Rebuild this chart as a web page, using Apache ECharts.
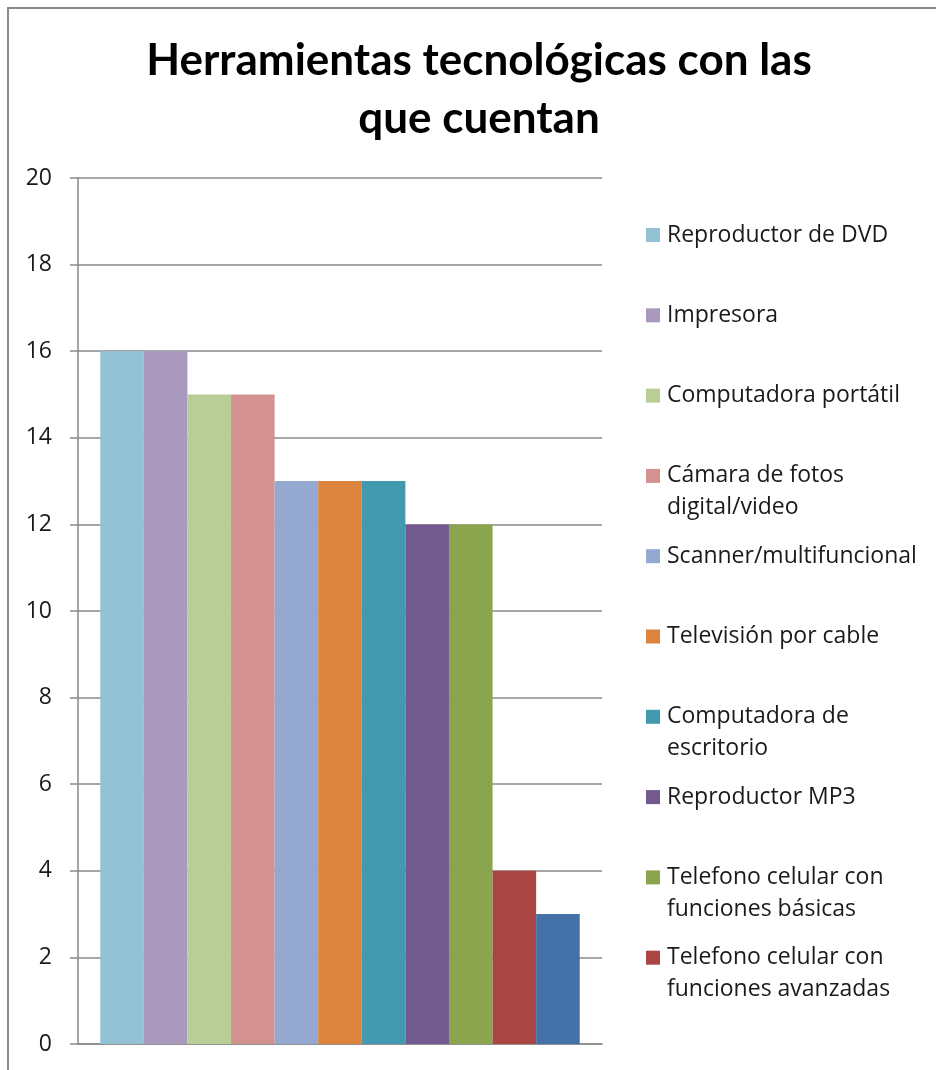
<!DOCTYPE html>
<html>
<head>
<meta charset="utf-8">
<script src="https://cdn.jsdelivr.net/npm/echarts@6/dist/echarts.min.js"></script>
<style>
html,body{margin:0;padding:0;background:#fff;}
#chart{width:936px;height:1070px;}
</style>
</head>
<body>
<div id="chart"></div>
<script>
// ---- data ----
var titleText = 'Herramientas tecnológicas con las\nque cuentan';
var categories = [''];
var seriesNames = [
  'Reproductor de DVD',
  'Impresora',
  'Computadora portátil',
  'Cámara de fotos\ndigital/video',
  'Scanner/multifuncional',
  'Televisión por cable',
  'Computadora de\nescritorio',
  'Reproductor MP3',
  'Telefono celular con\nfunciones básicas',
  'Telefono celular con\nfunciones avanzadas',
  'Otros'
];
var seriesValues = [16, 16, 15, 15, 13, 13, 13, 12, 12, 4, 3];
var seriesColors = ['#92C2D4', '#A99ABD', '#B9CD96', '#D39190', '#94A8D0', '#DC833E', '#4399AF', '#72598E', '#8AA54D', '#A94543', '#4472A8'];
var legendCount = 10; // last series not visible in legend (cut off in original)
var yTicks = [0, 2, 4, 6, 8, 10, 12, 14, 16, 18, 20];

// ---- build ----
var chart = echarts.init(document.getElementById('chart'), null, {renderer: 'canvas'});
var FONT = "'Open Sans', 'DejaVu Sans', sans-serif";

var series = seriesNames.map(function (n, i) {
  return {
    name: n,
    type: 'bar',
    data: [seriesValues[i]],
    barGap: '0%',
    barCategoryGap: '8.5%',
    itemStyle: {color: seriesColors[i]},
    emphasis: {disabled: true}
  };
});

var legends = [];
var firstCenter = 235, step = 80.3, lh = 32;
for (var i = 0; i < legendCount; i++) {
  var lines = seriesNames[i].split('\n').length;
  var c = firstCenter + step * i;
  var shown = lines > 1 ? 2 * lines - 1 : 1; // blank lines above so the first line sits beside the marker
  var h = shown * lh;
  legends.push({
    data: [seriesNames[i]],
    left: 646,
    top: c - h / 2,
    padding: 0,
    orient: 'vertical',
    itemWidth: 14,
    itemHeight: 14,
    itemGap: 0,
    selectedMode: false,
    icon: 'rect',
    formatter: (function (n) {
      return function (name) { return n > 1 ? new Array(n).join('\n') + name : name; };
    })(lines),
    textStyle: {
      fontFamily: FONT,
      fontSize: 23,
      color: '#1a1a1a',
      lineHeight: lh,
      padding: [0, 0, 0, 2]
    }
  });
}

var option = {
  backgroundColor: '#ffffff',
  animation: false,
  title: {
    text: titleText,
    left: 479,
    textAlign: 'center',
    top: 32,
    padding: 0,
    textStyle: {
      fontFamily: "Lato, 'Open Sans', sans-serif",
      fontWeight: 'bold',
      fontSize: 44,
      lineHeight: 58,
      color: '#000000'
    }
  },
  legend: legends,
  grid: {left: 78, right: 334, top: 178, bottom: 26, containLabel: false},
  xAxis: {
    type: 'category',
    data: categories,
    axisLine: {lineStyle: {color: '#8a8a8a', width: 1.5}},
    axisTick: {show: false},
    axisLabel: {show: false}
  },
  yAxis: {
    type: 'value',
    min: yTicks[0],
    max: yTicks[yTicks.length - 1],
    interval: 2,
    axisLine: {show: true, lineStyle: {color: '#8a8a8a', width: 1.5}},
    axisTick: {show: true, length: 8, lineStyle: {color: '#8a8a8a', width: 1.5}},
    axisLabel: {fontFamily: FONT, fontSize: 23, color: '#1a1a1a', margin: 26},
    splitLine: {lineStyle: {color: '#8a8a8a', width: 1.5}}
  },
  graphic: [{
    type: 'rect',
    shape: {x: 8, y: 8, width: 1100, height: 1200},
    style: {fill: 'none', stroke: '#8a8a8a', lineWidth: 2},
    silent: true,
    z: 100
  }],
  series: series
};
chart.setOption(option);
</script>
</body>
</html>
